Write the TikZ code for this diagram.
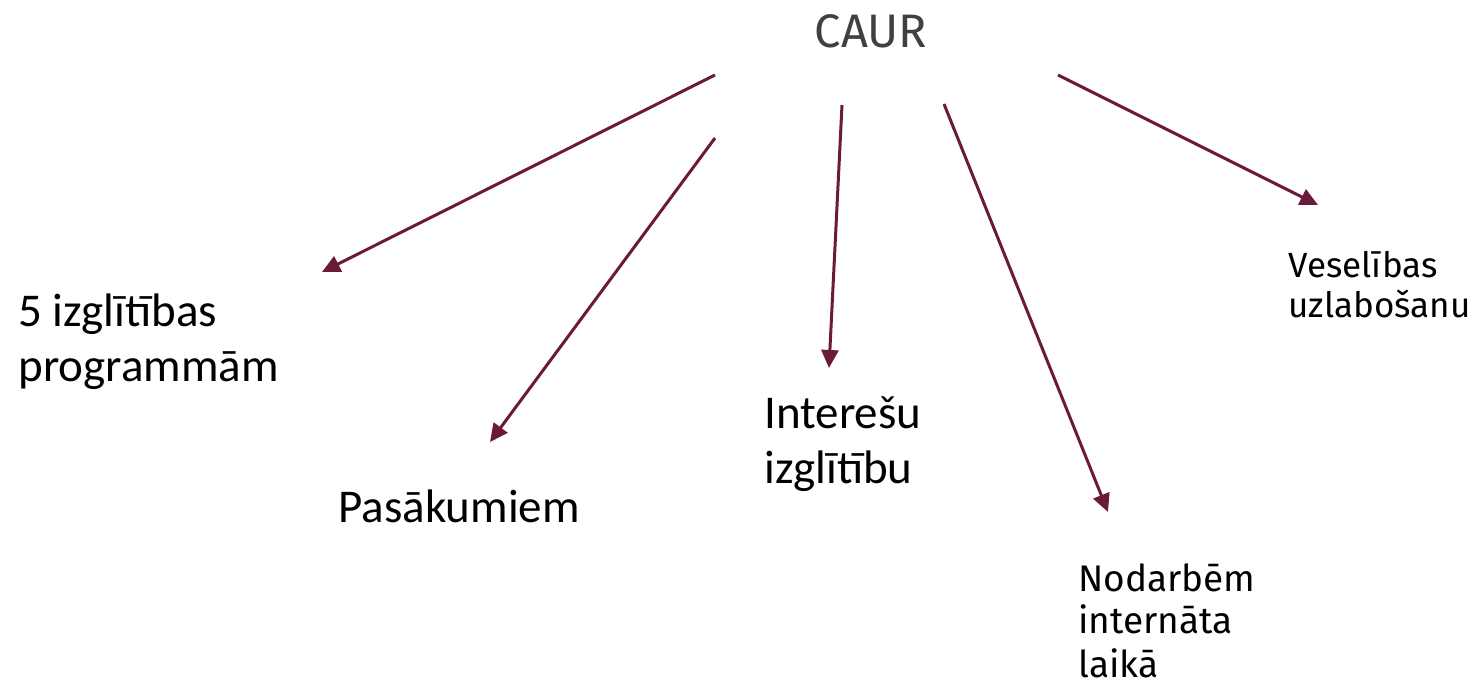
\documentclass[tikz,border=0pt]{standalone}
\usepackage{fontspec}
\setmainfont{Carlito}
\newfontfamily\firafont{Fira Sans}
\usetikzlibrary{arrows.meta}
\definecolor{maroon}{RGB}{108,26,58}
\definecolor{titlegray}{RGB}{64,64,64}
\tikzset{
	big/.style={anchor=base west,inner sep=0pt,align=left,font=\fontsize{23.5}{27.5}\selectfont},
	small/.style={anchor=base west,inner sep=0pt,align=left},
	link/.style={draw=maroon,line width=1.5pt,-{Triangle[length=9pt,width=8.5pt]}}
}
\begin{document}
\begin{tikzpicture}[x=0.5pt,y=-0.5pt]
				\useasboundingbox(0,0)rectangle(1478,683);
				% texts, placed by the baseline of their last line
				\node[anchor=base,inner sep=0pt,text=titlegray,font=\firafont\fontsize{23.5}{28}\selectfont](caur)at(871,48){CAUR};
				\node[big](progr)at(18,382){5 izglītības\\programmām};
				\node[big](pasak)at(338,523){Pasākumiem};
				\node[big](inter)at(764,484){Interešu\\izglītību};
				\node[small,font=\firafont\fontsize{17.5}{20}\selectfont](vesel)at(1288,318){Veselības\\uzlabošanu};
				\node[small,font=\firafont\fontsize{18.5}{21.5}\selectfont](nodarb)at(1078,677){Nodarbēm\\internāta\\laikā};
				% arrows
				\coordinate(s1)at(715,75);\coordinate(e1)at(322,272);
				\coordinate(s2)at(715,138);\coordinate(e2)at(490,442);
				\coordinate(s3)at(842,105);\coordinate(e3)at(829,368);
				\coordinate(s4)at(944,104);\coordinate(e4)at(1108,512);
				\coordinate(s5)at(1058,75);\coordinate(e5)at(1318,205);
				\draw[link](s1)--(e1);
				\draw[link](s2)--(e2);
				\draw[link](s3)--(e3);
				\draw[link](s4)--(e4);
				\draw[link](s5)--(e5);
			\end{tikzpicture}
\end{document}
